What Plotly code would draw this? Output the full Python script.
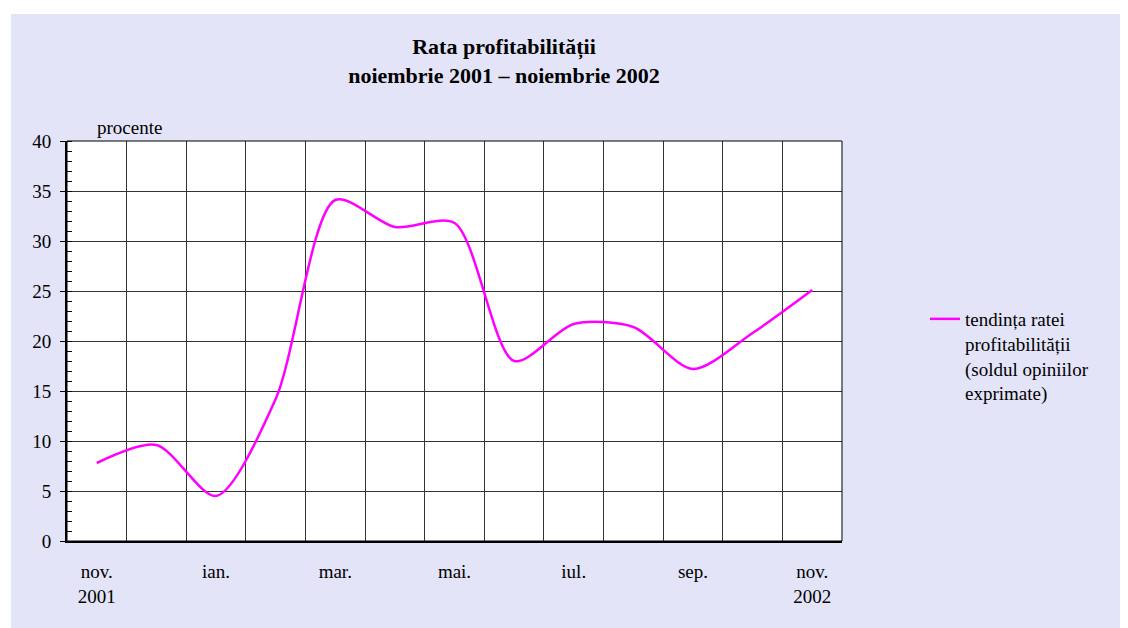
import plotly.graph_objects as go

# ---- data ----
months = ["nov. 2001", "dec. 2001", "ian. 2002", "feb. 2002", "mar. 2002", "apr. 2002",
          "mai. 2002", "iun. 2002", "iul. 2002", "aug. 2002", "sep. 2002", "oct. 2002",
          "nov. 2002"]
profit_trend = [7.8, 9.6, 4.5, 14.2, 34.1, 31.4, 31.8, 18.0, 21.7, 21.4, 17.2, 20.8, 25.1]
tick_text = ["nov.<br>2001", "", "ian.", "", "mar.", "", "mai.", "", "iul.", "", "sep.", "",
             "nov.<br>2002"]
series_name = "tendința ratei<br>profitabilității<br>(soldul opiniilor<br>exprimate)"
title_text = "Rata profitabilității<br>noiembrie 2001 – noiembrie 2002"
y_unit = "procente"

FONT = "Liberation Serif"
FS = 19
OFF = 8  # page body margin
W, H = 1128 - OFF, 628 - OFF
L, R, T, B = 67 - OFF, 842 - OFF, 141 - OFF, 541 - OFF  # plot area pixel edges in figure

def px_x(p):
    return (p - OFF - L) / (R - L)

def px_y(p):
    return (B - (p - OFF)) / (B - T)

fig = go.Figure()
fig.add_trace(go.Scatter(
    x=months, y=profit_trend, mode="lines", name=series_name,
    line=dict(color="#ff00ff", width=2.5, shape="spline", smoothing=0.8),
    hoverinfo="x+y",
))

fig.update_layout(
    width=W, height=H,
    margin=dict(l=L, r=W - R, t=T, b=H - B, pad=0),
    paper_bgcolor="#e4e4f8",
    plot_bgcolor="white",
    font=dict(family=FONT, size=FS, color="black"),
    title=dict(text=title_text, x=(504 - OFF) / W, xanchor="center", xref="container",
               y=1 - (54 - OFF) / H, yanchor="middle", yref="container",
               font=dict(family=FONT, size=22, color="black", weight=700)),
    showlegend=True,
    legend=dict(xref="container", yref="container", x=(925 - OFF) / W, xanchor="left",
                y=1 - (300 - OFF) / H, yanchor="top", valign="top",
                bgcolor="rgba(0,0,0,0)", borderwidth=0,
                font=dict(family=FONT, size=FS, color="black")),
    xaxis=dict(
        type="category", range=[-0.5, 12.5], tickson="boundaries",
        tickmode="array", tickvals=months, ticktext=tick_text,
        showgrid=True, gridcolor="#333333", gridwidth=1,
        ticks="", showline=True, linecolor="black", linewidth=2,
        ticklabelstandoff=12, tickfont=dict(family=FONT, size=FS, color="black"),
        fixedrange=True,
    ),
    yaxis=dict(
        range=[0, 40], tick0=0, dtick=5,
        showgrid=True, gridcolor="#333333", gridwidth=1,
        ticks="outside", ticklen=5, tickcolor="black", tickwidth=1,
        minor=dict(dtick=1, tick0=0, ticks="inside", ticklen=5, tickcolor="black",
                   tickwidth=1, showgrid=False),
        showline=True, linecolor="black", linewidth=2, zeroline=False,
        ticklabelstandoff=5, tickfont=dict(family=FONT, size=FS, color="black"),
        fixedrange=True,
    ),
    shapes=[
        # white outer margin (left and top)
        dict(type="rect", xref="paper", yref="paper", x0=px_x(OFF), x1=px_x(11),
             y0=px_y(628), y1=px_y(OFF), fillcolor="white", line_width=0, layer="below"),
        dict(type="rect", xref="paper", yref="paper", x0=px_x(OFF), x1=px_x(1128),
             y0=px_y(14), y1=px_y(OFF), fillcolor="white", line_width=0, layer="below"),
        # plot area frame
        dict(type="rect", xref="paper", yref="paper", x0=0, x1=1, y0=0, y1=1,
             line=dict(color="black", width=1), fillcolor="rgba(0,0,0,0)", layer="above"),
    ],
    annotations=[
        dict(text=y_unit, xref="paper", yref="paper", x=px_x(95), y=px_y(127),
             xanchor="left", yanchor="middle", showarrow=False,
             font=dict(family=FONT, size=FS, color="black")),
    ],
)

fig.write_html("out.html")
